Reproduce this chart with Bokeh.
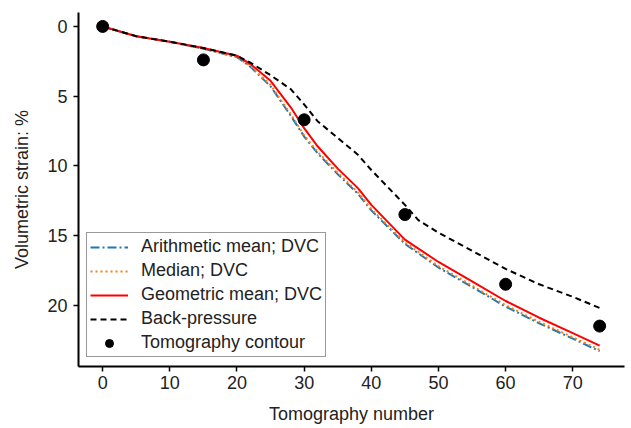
from bokeh.plotting import figure
from bokeh.models import Range1d, FixedTicker, Legend, LegendItem
from bokeh.embed import file_html
from bokeh.resources import INLINE

# --- data ---
x_dvc = [0, 5, 10, 15, 20, 22, 25, 28, 30, 32, 35, 38, 40, 45, 50, 55, 60, 65, 70, 74]
arith = [0, 0.7, 1.1, 1.6, 2.2, 2.9, 4.3, 6.4, 7.9, 9.1, 10.6, 12.0, 13.2, 15.6, 17.3, 18.7, 20.1, 21.3, 22.4, 23.3]
median = [0, 0.7, 1.1, 1.6, 2.2, 2.85, 4.2, 6.3, 7.8, 9.0, 10.5, 11.9, 13.1, 15.5, 17.2, 18.6, 20.0, 21.2, 22.3, 23.2]
geom = [0, 0.7, 1.1, 1.55, 2.1, 2.7, 3.9, 5.8, 7.3, 8.6, 10.2, 11.6, 12.8, 15.3, 16.9, 18.3, 19.7, 20.9, 22.0, 22.9]

x_bp = [0, 5, 10, 15, 20, 22, 25, 28, 30, 32, 35, 38, 40, 45, 47, 50, 55, 60, 65, 70, 74]
backp = [0, 0.7, 1.1, 1.55, 2.1, 2.6, 3.5, 4.5, 5.6, 6.8, 8.0, 9.2, 10.3, 12.8, 13.9, 14.8, 16.1, 17.4, 18.5, 19.4, 20.2]

x_tomo = [0, 15, 30, 45, 60, 74]
tomo = [0, 2.4, 6.7, 13.5, 18.5, 21.5]

x_ticks = [0, 10, 20, 30, 40, 50, 60, 70]
y_ticks = [0, 5, 10, 15, 20]

FONT = "Liberation Sans"
FS = "18px"

p = figure(width=631, height=428, output_backend="svg", toolbar_location=None,
           x_range=Range1d(-3.6, 77.7), y_range=Range1d(24.4, -1.0),
           min_border_left=78, min_border_right=7, min_border_top=12, min_border_bottom=62)
p.outline_line_color = None
p.xgrid.visible = False
p.ygrid.visible = False
p.background_fill_color = "white"
p.border_fill_color = "white"

r1 = p.line(x_dvc, arith, line_color="#1f77b4", line_width=2, line_dash="9 3 2 3")
r2 = p.line(x_dvc, median, line_color="#ff7f0e", line_width=2, line_dash="2 3")
r3 = p.line(x_dvc, geom, line_color="red", line_width=2)
r4 = p.line(x_bp, backp, line_color="black", line_width=2, line_dash="6 4")
r5 = p.scatter(x_tomo, tomo, size=12, fill_color="black", line_color="black")

for ax in (p.xaxis[0], p.yaxis[0]):
    ax.axis_line_width = 2
    ax.axis_line_color = "black"
    ax.major_tick_line_width = 1.5
    ax.major_tick_line_color = "black"
    ax.major_tick_out = 5
    ax.major_tick_in = 0
    ax.minor_tick_line_color = None
    ax.major_label_text_font = FONT
    ax.major_label_text_font_size = FS
    ax.major_label_text_color = "#222222"
    ax.axis_label_text_font = FONT
    ax.axis_label_text_font_size = FS
    ax.axis_label_text_font_style = "normal"
    ax.axis_label_text_color = "#222222"

p.xaxis.ticker = FixedTicker(ticks=x_ticks)
p.yaxis.ticker = FixedTicker(ticks=y_ticks)
p.xaxis.axis_label = "Tomography number"
p.yaxis.axis_label = "Volumetric strain: %"
p.xaxis.major_label_standoff = 4
p.yaxis.major_label_standoff = 6
p.xaxis.axis_label_standoff = 12
p.yaxis.axis_label_standoff = 12

legend = Legend(items=[
    LegendItem(label="Arithmetic mean; DVC", renderers=[r1]),
    LegendItem(label="Median; DVC", renderers=[r2]),
    LegendItem(label="Geometric mean; DVC", renderers=[r3]),
    LegendItem(label="Back-pressure", renderers=[r4]),
    LegendItem(label="Tomography contour", renderers=[r5]),
], location=(8, 9))
legend.label_text_font = FONT
legend.label_text_font_size = FS
legend.label_text_color = "#222222"
legend.border_line_color = "#333333"
legend.border_line_width = 1.5
legend.glyph_width = 38
legend.glyph_height = 20
legend.label_height = 20
legend.spacing = 3
legend.padding = 3
legend.margin = 0
legend.label_standoff = 13
p.add_layout(legend, "center")

open("out.html", "w").write(file_html(p, INLINE))
